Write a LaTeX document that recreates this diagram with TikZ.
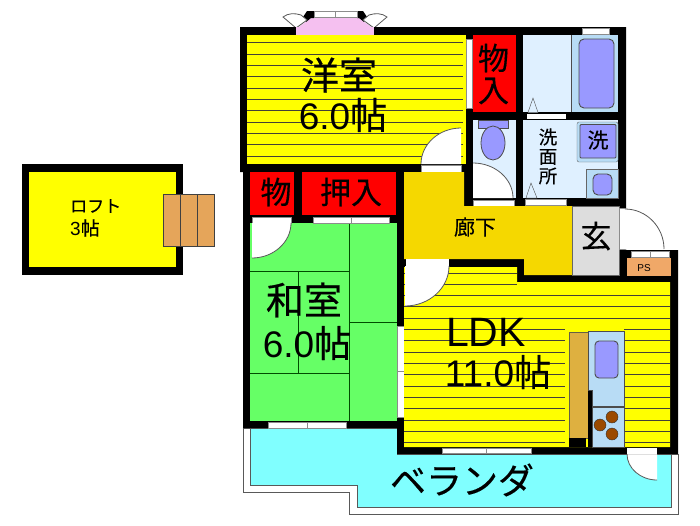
\documentclass[tikz,border=0pt]{standalone}
\usepackage{fontspec}
\setmainfont{Liberation Sans}
\newfontfamily\jpfont[FakeBold=0.35]{Noto Sans CJK JP}
\definecolor{roomyellow}{HTML}{FFFF00}
\definecolor{hallgold}{HTML}{F5D800}
\definecolor{matgreen}{HTML}{66FF66}
\definecolor{closetred}{HTML}{FF0000}
\definecolor{wetblue}{HTML}{DFF0FF}
\definecolor{bathblue}{HTML}{B8DCF5}
\definecolor{fixtureblue}{HTML}{9999FF}
\definecolor{porchcyan}{HTML}{80FFFF}
\definecolor{baypink}{HTML}{F5C0F0}
\definecolor{stairtan}{HTML}{E5A55A}
\definecolor{counterTan}{HTML}{DEB040}
\definecolor{burnerbrown}{HTML}{9B4A00}
\definecolor{entrygray}{HTML}{DDDDDD}
\definecolor{psorange}{HTML}{F0A868}
\tikzset{
  floorline/.style={draw=black!85!yellow,line width=1pt},
  matline/.style={draw=black!70!green,line width=0.9pt},
  fixture/.style={draw=black!70,line width=0.9pt,fill=fixtureblue,rounded corners=3pt},
  sash/.style={draw=black!45,fill=white,line width=0.8pt},
  doorleaf/.style={draw=black!65,line width=0.8pt},
  biglabel/.style={font=\fontsize{37}{37}\selectfont,inner sep=0pt},
  midlabel/.style={font=\jpfont\fontsize{31}{31}\selectfont,inner sep=0pt},
  smalllabel/.style={font=\jpfont\fontsize{18.5}{18.5}\selectfont,inner sep=0pt},
  loftlabel/.style={font=\fontsize{17}{17}\selectfont,inner sep=0pt,anchor=west},
}
\newcommand{\doorfan}[3]{\fill[white,shift={(#1)}] (0,0) -- (#2,0) .. controls (#2,0.55*#3) and (0.55*#2,#3) .. (0,#3) -- cycle;
  \draw[doorleaf,shift={(#1)}] (#2,0) .. controls (#2,0.55*#3) and (0.55*#2,#3) .. (0,#3);}
\begin{document}
\begin{tikzpicture}[x=1pt,y=-1pt]
  \useasboundingbox (0,0) rectangle (700,525);

  % loft
  \fill[black] (22,164) rectangle (183,275);
  \fill[roomyellow] (29,172) rectangle (176,267);
  \foreach \x in {163,180,197}
    \draw[fill=stairtan,draw=black!75,line width=0.8pt] (\x,194) rectangle (\x+17,246);
  \node[loftlabel] (loftname) at (70,206) {\jpfont ロフト};
  \node[loftlabel,font=\fontsize{19}{19}\selectfont] (loftsize) at (70,228) {3{\jpfont 帖}};

  % balcony
  \draw[fill=white,draw=black!65,line width=0.8pt] (243,428) -- (243,492) -- (349,492) -- (349,514) -- (678,514) -- (678,454) -- (397,454) -- (397,428) -- cycle;
  \draw[fill=porchcyan,draw=black!65,line width=0.8pt] (250,428) -- (250,485) -- (357,485) -- (357,507.5) -- (671,507.5) -- (671,454) -- (397,454) -- (397,428) -- cycle;
  \doorfan{657,454}{-30}{26}

  % bay window
  \fill[baypink] (296,35) -- (296,29) -- (311,18) -- (359,18) -- (374,29) -- (374,35) -- cycle;
  \fill[black] (303,17) -- (307,11) -- (314,11) -- (314,18) -- (311,18) -- (306,22) -- cycle;
  \fill[black] (367,17) -- (363,11) -- (357,11) -- (357,18) -- (359,18) -- (364,22) -- cycle;
  \draw[sash] (314,11) rectangle (335,17);
  \draw[sash] (335,11) rectangle (357,17);
  \draw[doorleaf,fill=white] (296,28) -- (283,17) .. controls (288,13) and (295,13) .. (301,15) -- (307,20) -- cycle;
  \draw[doorleaf,fill=white] (374,28) -- (387,17) .. controls (382,13) and (375,13) .. (369,15) -- (363,20) -- cycle;

  % building walls
  \fill[black] (240,27) -- (626,27) -- (626,250) -- (678,250) -- (678,454) -- (397,454) -- (397,428) -- (243,428) -- (243,172) -- (240,172) -- cycle;
  \fill[baypink] (296,27) rectangle (374,35);

  % western room
  \fill[roomyellow] (247,35) rectangle (466,164);
  \foreach \i in {0,...,10}
    \draw[floorline] (247,42.7+11.33*\i) -- (463,42.7+11.33*\i);
  \draw[sash] (466,39) rectangle (472,108);
  \draw[sash] (421,165) rectangle (461,172);
  \doorfan{461,164}{-40}{-36}
  \node[biglabel,font=\jpfont\fontsize{38}{38}\selectfont] (westname) at (339,75) {洋室};
  \node[biglabel] (westsize) at (343,115) {6.0{\jpfont 帖}};

  % closets
  \fill[closetred] (473,35) rectangle (516,112);
  \node[midlabel] (closetA) at (493.5,58) {物};
  \node[midlabel] (closetB) at (493.5,91) {入};
  \fill[closetred] (250,172) rectangle (294,215);
  \node[midlabel] (closetC) at (276,192) {物};
  \fill[closetred] (302,172) rectangle (396,215);
  \node[midlabel] (closetD) at (351,192) {押入};

  % bath and wash room
  \fill[wetblue] (523,35) rectangle (571,112);
  \fill[bathblue] (571,35) rectangle (618,112);
  \draw[draw=black!70,line width=0.9pt] (571,35) -- (571,112);
  \draw[fixture,rounded corners=5pt] (579,39) rectangle (614,108);
  \draw[sash] (582,28) rectangle (609,34);
  \draw[fill=wetblue,draw=black!70] (528,112.5) -- (533,98) -- (538,112.5) -- cycle;
  \fill[white] (527,114) rectangle (566,119);
  \fill[wetblue] (473,120) rectangle (516,198);
  \draw[fill=fixtureblue,draw=black!70,line width=0.8pt] (478,120) rectangle (508,128);
  \draw[fill=fixtureblue,draw=black!70,line width=0.8pt] (493,143) ellipse (12 and 17);
  \doorfan{473,198}{40}{-35}
  \fill[wetblue] (523,120) rectangle (618,198);
  \draw[fill=bathblue,draw=black!60,rounded corners=2pt] (577,122) rectangle (618,162);
  \draw[fixture,rounded corners=1pt] (580,124.5) rectangle (616,158);
  \draw[fill=bathblue,draw=black!60] (586,169) rectangle (618,198);
  \draw[fixture,rounded corners=5pt] (593,174) rectangle (612,195);
  \draw[fill=wetblue,draw=black!70] (526,198) -- (531,183) -- (537,198) -- cycle;
  \node[font=\jpfont\fontsize{21}{21}\selectfont,inner sep=0pt] (washer) at (598,140) {洗};
  \node[smalllabel] (washA) at (548,137) {洗};
  \node[smalllabel] (washB) at (548,157) {面};
  \node[smalllabel] (washC) at (548,176) {所};
  \draw[sash] (473,200) rectangle (514,206);
  \draw[sash] (525,199) rectangle (566,205);

  % hall and entry
  \fill[hallgold] (404,172) -- (464,172) -- (464,206) -- (572,206) -- (572,275) -- (524,275) -- (524,259) -- (404,259) -- cycle;
  \node[font=\jpfont\fontsize{21}{21}\selectfont,inner sep=0pt] (hallname) at (475,227) {廊下};
  \draw[fill=entrygray,draw=black!60] (572,206) rectangle (619,275);
  \node[midlabel] (entryname) at (596,236) {玄};
  \draw[sash] (619,208) rectangle (625,249);
  \doorfan{625,249}{39}{-40}
  \fill[psorange] (627,258) rectangle (671,276);
  \draw[sash] (631,251) rectangle (650,257);
  \draw[sash] (650,251) rectangle (669,257);
  \node[font=\fontsize{10}{10}\selectfont,inner sep=0pt] (psname) at (644,268) {PS};

  % japanese room
  \fill[matgreen] (250,223) rectangle (397,421);
  \draw[matline] (349,223) -- (349,421);
  \draw[matline] (250,271) -- (349,271);
  \draw[matline] (298,271) -- (298,373);
  \draw[matline] (250,373) -- (349,373);
  \draw[matline] (349,322) -- (397,322);
  \draw[sash] (252,217) rectangle (291,223);
  \doorfan{252,223}{39}{35}
  \draw[sash] (313,217) rectangle (351,223);
  \draw[sash] (351,217) rectangle (389,223);
  \node[biglabel,font=\jpfont\fontsize{38}{38}\selectfont] (matname) at (304,300) {和室};
  \node[biglabel] (matsize) at (307,343) {6.0{\jpfont 帖}};
  \draw[sash] (268,422) rectangle (307,428);
  \draw[sash] (307,422) rectangle (346,428);
  \draw[sash] (397,326) rectangle (404,371);
  \draw[sash] (397,371) rectangle (404,417);

  % living room
  \fill[roomyellow] (404,267) -- (517,267) -- (517,282) -- (670,282) -- (670,447) -- (404,447) -- cycle;
  \foreach \i in {0,1}
    \draw[floorline] (404,273+11.33*\i) -- (517,273+11.33*\i);
  \foreach \i in {2,3,4}
    \draw[floorline] (404,273+11.33*\i) -- (670,273+11.33*\i);
  \foreach \i in {5,...,15}
    \draw[floorline] (404,273+11.33*\i) -- (565,273+11.33*\i);
  \foreach \i in {5,...,15}
    \draw[floorline] (624,273+11.33*\i) -- (670,273+11.33*\i);
  \fill[white] (406,259) rectangle (449,266);
  \doorfan{405,266}{44}{40}
  \draw[fill=counterTan,draw=black!70!yellow,line width=0.8pt] (569,332) rectangle (588,438);
  \fill[black] (569,438) rectangle (586,447);
  \fill[black] (588,390) rectangle (592,447);
  \draw[fill=bathblue,draw=black!70] (588,331) -- (624,331) -- (624,406.5) -- (592,406.5) -- (592,390) -- (588,390) -- cycle;
  \draw[fill=bathblue,draw=black!70] (592,407) rectangle (624,447);
  \draw[fixture,rounded corners=4pt] (595,341) rectangle (618,378);
  \foreach \p in {{612,417},{600,425},{612,434}}
    \draw[fill=burnerbrown,draw=black!80] (\p) circle (6);
  \node[biglabel,font=\fontsize{41}{41}\selectfont] (livingname) at (486,332) {LDK};
  \node[biglabel] (livingsize) at (498,372) {11.0{\jpfont 帖}};
  \draw[sash] (442,448) rectangle (486,453);
  \draw[sash] (486,448) rectangle (531,453);
  \fill[white] (627,448) rectangle (657,454);

  \node[font=\jpfont\fontsize{36}{36}\selectfont,inner sep=0pt] (porchname) at (462,480) {ベランダ};
\end{tikzpicture}
\end{document}
